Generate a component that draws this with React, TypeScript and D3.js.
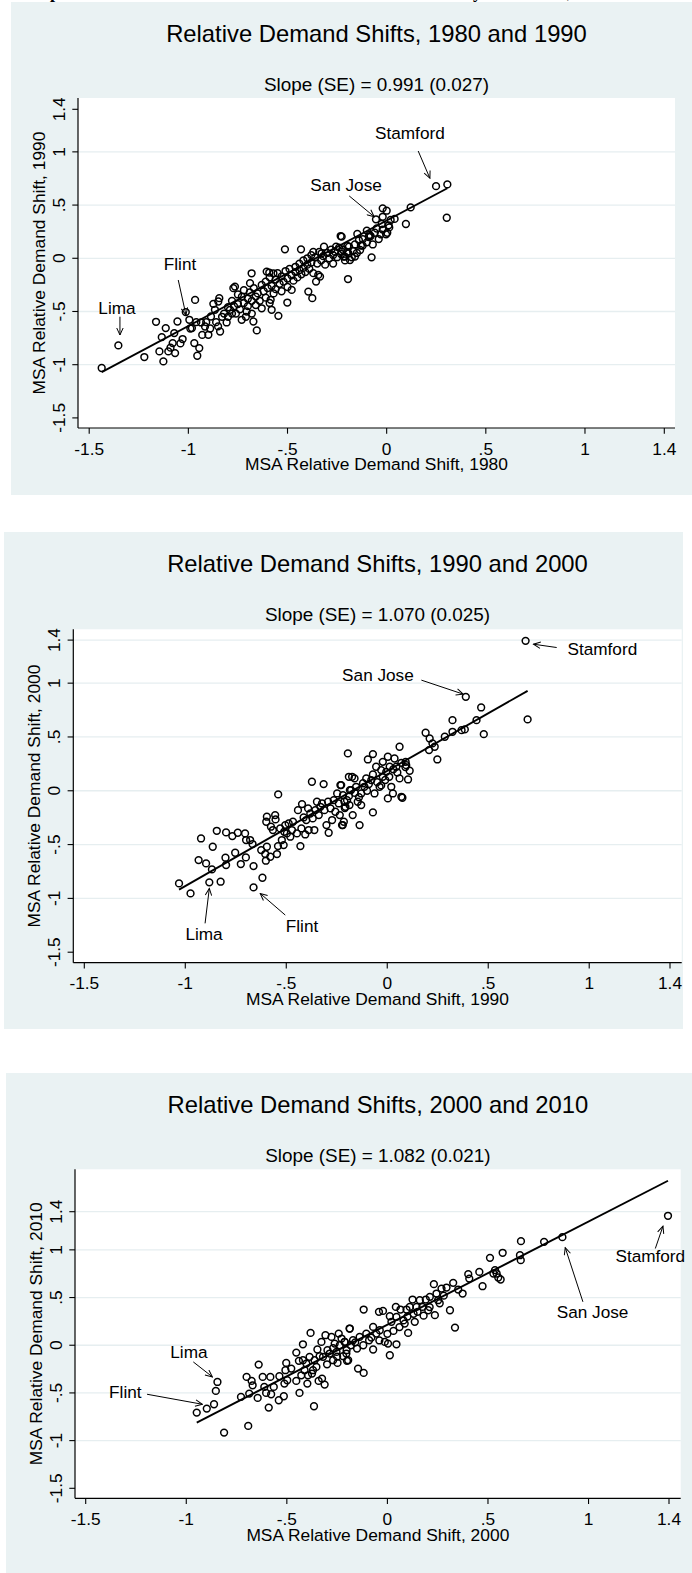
import React from "react";
import * as d3 from "d3";

// ---------- DATA ----------
const tickValues = [-1.5, -1, -0.5, 0, 0.5, 1, 1.4];
const tickLabels = ["-1.5", "-1", "-.5", "0", ".5", "1", "1.4"];

const titles = [
  "Relative Demand Shifts, 1980 and 1990",
  "Relative Demand Shifts, 1990 and 2000",
  "Relative Demand Shifts, 2000 and 2010",
];
const subtitles = [
  "Slope (SE) = 0.991 (0.027)",
  "Slope (SE) = 1.070 (0.025)",
  "Slope (SE) = 1.082 (0.021)",
];
const xTitles = [
  "MSA Relative Demand Shift, 1980",
  "MSA Relative Demand Shift, 1990",
  "MSA Relative Demand Shift, 2000",
];
const yTitles = [
  "MSA Relative Demand Shift, 1990",
  "MSA Relative Demand Shift, 2000",
  "MSA Relative Demand Shift, 2010",
];
const slopes = [0.991, 1.07, 1.082];
const intercepts = [0.355, 0.185, 0.215];
const gridValues = [
  [1, 0.5, 0, -0.5, -1],
  [1.4, 1, 0.5, 0, -0.5, -1],
  [1.4, 1, 0.5, 0, -0.5, -1],
];

const shifts1980_1990: [number, number][] = [
  [0.249, 0.678], [0.306, 0.694], [0.303, 0.381], [0.121, 0.478], [0.097, 0.322],
  [-0.02, 0.469], [0.0, 0.447], [-0.054, 0.366], [-0.02, 0.39], [-0.025, 0.322],
  [0.013, 0.29], [-0.03, 0.225], [-0.003, 0.225], [0.003, 0.24], [-0.081, 0.209],
  [-0.087, 0.219], [-0.1, 0.26], [-0.148, 0.228], [-0.121, 0.119], [-0.134, 0.078],
  [-0.076, 0.009], [-0.195, -0.195], [-0.198, 0.116], [-0.16, 0.016], [-0.176, 0.009],
  [-0.21, 0.016], [-0.227, 0.203], [-0.227, 0.063], [-0.185, -0.016],
  [-1.437, -1.031], [-1.353, -0.819], [-1.222, -0.928], [-1.163, -0.597], [-1.146, -0.875],
  [-1.134, -0.741], [-1.126, -0.969], [-1.114, -0.656], [-1.101, -0.875], [-1.079, -0.797],
  [-1.071, -0.703], [-1.067, -0.891], [-1.055, -0.594], [-1.029, -0.759], [-1.013, -0.506],
  [-0.995, -0.578], [-0.982, -0.656], [-0.97, -0.797], [-0.966, -0.391], [-0.955, -0.916],
  [-0.945, -0.844], [-0.936, -0.603], [-0.916, -0.641], [-0.899, -0.719], [-0.886, -0.547],
  [-0.874, -0.428], [-0.866, -0.484], [-0.849, -0.406], [-0.844, -0.375], [-0.84, -0.688],
  [-0.807, -0.603], [-0.79, -0.484], [-0.773, -0.281], [-0.765, -0.266], [-0.731, -0.578],
  [-0.706, -0.5], [-0.689, -0.234], [-0.681, -0.141], [-0.672, -0.594], [-0.655, -0.678],
  [-0.605, -0.125], [-0.592, -0.134], [-0.585, -0.39], [-0.58, -0.484], [-0.571, -0.141],
  [-0.546, -0.541], [-0.513, 0.084], [-0.501, -0.416], [-0.479, -0.297], [-0.432, 0.084],
  [-0.395, -0.313], [-0.375, -0.375], [-0.37, 0.06], [-0.356, -0.219], [-0.345, -0.156],
  [-0.336, -0.172], [-0.328, 0.047], [-0.316, 0.109], [-0.255, 0.109], [-0.232, 0.209],
  [-0.218, 0.016], [-0.193, 0.047],
  [-1.04, -0.8], [-1.09, -0.84], [-0.99, -0.66], [-0.96, -0.6], [-0.93, -0.72],
  [-0.91, -0.6], [-0.89, -0.66], [-0.86, -0.6], [-0.85, -0.64], [-0.83, -0.55],
  [-0.82, -0.52], [-0.8, -0.55], [-0.8, -0.46], [-0.78, -0.52],
  [-0.78, -0.4], [-0.77, -0.45], [-0.76, -0.52], [-0.75, -0.34], [-0.75, -0.43],
  [-0.74, -0.48], [-0.73, -0.36], [-0.72, -0.42], [-0.72, -0.3], [-0.71, -0.55],
  [-0.7, -0.38], [-0.7, -0.45], [-0.69, -0.32], [-0.68, -0.4], [-0.68, -0.52],
  [-0.67, -0.28], [-0.66, -0.36], [-0.66, -0.44], [-0.65, -0.33], [-0.64, -0.4],
  [-0.63, -0.25], [-0.63, -0.47], [-0.62, -0.31], [-0.61, -0.37], [-0.61, -0.22],
  [-0.6, -0.28], [-0.59, -0.42], [-0.59, -0.18], [-0.58, -0.26], [-0.57, -0.33],
  [-0.56, -0.2], [-0.56, -0.29], [-0.55, -0.14], [-0.54, -0.24], [-0.53, -0.31],
  [-0.53, -0.17], [-0.52, -0.22], [-0.51, -0.12], [-0.5, -0.19], [-0.5, -0.27],
  [-0.49, -0.1], [-0.48, -0.16], [-0.47, -0.21], [-0.46, -0.08], [-0.46, -0.13],
  [-0.45, -0.18], [-0.44, -0.05], [-0.44, -0.11], [-0.43, -0.15], [-0.42, -0.02],
  [-0.42, -0.09], [-0.41, -0.13], [-0.4, 0.0], [-0.4, -0.06], [-0.39, -0.1],
  [-0.38, 0.03], [-0.38, -0.04], [-0.37, -0.14], [-0.36, 0.01], [-0.35, -0.05],
  [-0.34, 0.06], [-0.33, -0.02], [-0.32, 0.02], [-0.31, -0.06], [-0.3, 0.05],
  [-0.29, 0.0], [-0.28, 0.08], [-0.27, 0.03], [-0.27, -0.05], [-0.26, 0.06],
  [-0.25, 0.01], [-0.24, 0.1], [-0.23, 0.04], [-0.22, 0.08], [-0.21, -0.02],
  [-0.2, 0.06], [-0.19, 0.11], [-0.17, 0.07], [-0.16, 0.13], [-0.15, 0.05],
  [-0.14, 0.17], [-0.13, 0.12], [-0.12, 0.18], [-0.1, 0.15], [-0.09, 0.2],
  [-0.07, 0.13], [-0.06, 0.24], [-0.05, 0.28], [-0.04, 0.18], [-0.02, 0.27],
  [0.01, 0.31], [0.02, 0.36], [0.04, 0.37],
];

const shifts1990_2000: [number, number][] = [
  [-1.031, -0.861], [-0.974, -0.954], [-0.922, -0.443], [-0.934, -0.644], [-0.897, -0.675],
  [-0.881, -0.851], [-0.868, -0.731], [-0.864, -0.52], [-0.844, -0.372], [-0.825, -0.845],
  [-0.801, -0.622], [-0.798, -0.387], [-0.798, -0.69], [-0.767, -0.421], [-0.753, -0.576],
  [-0.74, -0.39], [-0.725, -0.681], [-0.704, -0.396], [-0.7, -0.619], [-0.699, -0.458],
  [-0.679, -0.458], [-0.667, -0.495], [-0.662, -0.7], [-0.662, -0.898], [-0.618, -0.808],
  [-0.624, -0.551], [-0.604, -0.588], [-0.596, -0.52], [-0.601, -0.65], [-0.579, -0.613],
  [-0.596, -0.241], [-0.599, -0.288], [-0.555, -0.226], [-0.553, -0.266], [-0.546, -0.588],
  [-0.54, -0.034], [-0.541, -0.514], [-0.566, -0.365], [-0.576, -0.334], [-0.53, -0.35],
  [-0.522, -0.458], [-0.513, -0.505], [-0.51, -0.381], [-0.505, -0.319], [-0.497, -0.396],
  [-0.488, -0.303], [-0.48, -0.427], [-0.472, -0.365], [-0.467, -0.288], [-0.447, -0.396],
  [-0.442, -0.18], [-0.43, -0.514], [-0.425, -0.35], [-0.422, -0.124], [-0.414, -0.248],
  [-0.406, -0.406], [-0.401, -0.272], [-0.392, -0.164], [-0.389, -0.365], [-0.381, -0.211],
  [-0.373, 0.084], [-0.369, -0.257], [-0.361, -0.365], [-0.356, -0.18], [-0.348, -0.102],
  [-0.339, -0.226], [-0.331, -0.149], [-0.323, -0.118], [-0.315, 0.062], [-0.311, -0.18],
  [-0.301, -0.319], [-0.293, -0.102], [-0.29, -0.39], [-0.281, -0.164], [-0.273, -0.272],
  [-0.265, -0.087], [-0.257, -0.195], [-0.248, -0.025], [-0.24, -0.118], [-0.235, -0.226],
  [-0.232, 0.053], [-0.224, -0.319], [-0.219, -0.04], [-0.215, -0.288], [-0.207, -0.149],
  [-0.199, -0.087], [-0.195, 0.347], [-0.19, 0.13], [-0.185, 0.006],
  [0.685, 1.393], [0.389, 0.873], [0.695, 0.663], [0.465, 0.774], [0.442, 0.656],
  [0.478, 0.526], [0.323, 0.656], [0.384, 0.57], [0.368, 0.563], [0.323, 0.548],
  [0.285, 0.502], [0.19, 0.539], [0.21, 0.486], [0.224, 0.44], [0.207, 0.378],
  [0.235, 0.409], [0.248, 0.291], [0.061, 0.409], [0.091, 0.269], [0.111, 0.186],
  [0.103, 0.105], [0.07, -0.056], [0.075, -0.065], [0.003, -0.071], [0.028, -0.025],
  [0.003, 0.316], [-0.022, 0.269], [-0.071, 0.341], [-0.096, 0.291], [-0.055, 0.223],
  [-0.03, 0.192], [0.012, 0.223], [0.036, 0.3], [0.045, 0.223], [0.061, 0.115],
  [0.094, 0.238], [-0.071, 0.152], [-0.079, 0.099], [-0.022, 0.13], [-0.005, 0.176],
  [0.02, 0.037], [-0.038, 0.037], [-0.063, -0.025], [-0.071, -0.201], [-0.137, -0.319],
  [-0.171, -0.226], [-0.113, 0.037], [-0.129, -0.025], [-0.154, 0.037], [-0.162, 0.115],
  [-0.179, 0.006], [-0.146, -0.102], [-0.129, -0.133], [-0.187, -0.133], [-0.22, -0.319],
  [-0.228, 0.053], [-0.212, -0.102], [-0.174, 0.13], [-0.104, 0.115], [-0.091, 0.062],
  [-0.05, 0.08], [-0.03, 0.05], [-0.01, 0.1], [0.01, 0.13], [0.03, 0.2],
  [0.05, 0.17], [0.07, 0.26], [0.09, 0.22], [-0.12, 0.07], [-0.1, 0.0],
  [-0.14, -0.06], [-0.16, -0.02], [-0.19, -0.05], [-0.21, -0.16],
];

const shifts2000_2010: [number, number][] = [
  [-0.948, -0.706], [-0.898, -0.664], [-0.862, -0.619], [-0.853, -0.479], [-0.845, -0.385],
  [-0.812, -0.916], [-0.692, -0.846], [-0.728, -0.542], [-0.7, -0.332], [-0.687, -0.507],
  [-0.675, -0.374], [-0.67, -0.42], [-0.645, -0.552], [-0.64, -0.203], [-0.62, -0.332],
  [-0.612, -0.437], [-0.603, -0.5], [-0.59, -0.654], [-0.582, -0.332], [-0.578, -0.514],
  [-0.565, -0.437], [-0.54, -0.577], [-0.537, -0.325], [-0.515, -0.535], [-0.512, -0.402],
  [-0.507, -0.262], [-0.503, -0.185], [-0.498, -0.367], [-0.478, -0.245], [-0.453, -0.077],
  [-0.453, -0.374], [-0.44, -0.164], [-0.437, -0.5], [-0.428, -0.315], [-0.42, -0.157],
  [-0.42, 0.01], [-0.412, -0.262], [-0.403, -0.192], [-0.398, -0.402], [-0.395, -0.315],
  [-0.387, -0.122], [-0.382, 0.129], [-0.375, -0.297], [-0.37, -0.262], [-0.365, -0.64],
  [-0.362, -0.157], [-0.353, -0.227], [-0.348, -0.045], [-0.342, -0.374], [-0.337, -0.115],
  [-0.328, 0.035], [-0.325, -0.35], [-0.32, -0.122], [-0.312, -0.413], [-0.308, 0.105],
  [-0.298, -0.052], [-0.287, -0.087], [-0.278, 0.087], [-0.27, -0.157], [-0.262, 0.017],
  [-0.253, -0.07], [-0.248, -0.185], [-0.242, 0.122], [-0.237, 0.0], [-0.228, 0.07],
  [-0.22, -0.115], [-0.212, 0.035], [-0.203, -0.052], [-0.195, -0.157], [-0.187, 0.175],
  [-0.182, 0.0],
  [1.395, 1.357], [0.87, 1.133], [0.779, 1.084], [0.664, 1.091], [0.659, 0.944],
  [0.663, 0.892], [0.573, 0.969], [0.51, 0.916], [0.457, 0.769], [0.535, 0.787],
  [0.543, 0.752], [0.551, 0.71], [0.563, 0.689], [0.527, 0.752], [0.473, 0.619],
  [0.402, 0.745], [0.407, 0.699], [0.352, 0.584], [0.374, 0.542], [0.336, 0.185],
  [0.327, 0.654], [0.294, 0.605], [0.269, 0.594], [0.231, 0.64], [0.244, 0.542],
  [0.252, 0.472], [0.211, 0.507], [0.191, 0.479], [0.174, 0.402], [0.203, 0.367],
  [0.236, 0.315], [0.311, 0.367], [0.161, 0.472], [0.125, 0.479], [0.145, 0.402],
  [0.111, 0.402], [0.095, 0.374], [0.065, 0.374], [0.042, 0.402], [0.136, 0.245],
  [0.103, 0.129], [0.086, 0.227], [0.045, 0.297], [0.02, 0.245], [0.012, 0.304],
  [-0.022, 0.36], [-0.042, 0.35], [0.012, -0.105], [0.045, 0.01], [0.003, 0.017],
  [-0.013, 0.035], [-0.038, 0.157], [-0.071, 0.192], [-0.071, -0.045], [-0.118, 0.374],
  [-0.118, -0.29], [-0.146, -0.245], [-0.138, 0.087], [-0.151, -0.035], [-0.188, 0.175],
  [-0.171, 0.052], [-0.204, -0.087], [-0.091, 0.052], [-0.105, 0.122], [-0.055, 0.122],
  [-0.201, -0.164], [-0.213, 0.035],
  [-0.16, 0.03], [-0.12, 0.0], [-0.08, 0.08], [-0.04, 0.05], [0.0, 0.12],
  [0.03, 0.15], [0.06, 0.19], [0.08, 0.26], [0.1, 0.3], [0.13, 0.33],
  [0.15, 0.35], [0.18, 0.31], [0.21, 0.4], [0.26, 0.44], [0.28, 0.52],
  [-0.25, -0.12], [-0.3, -0.2], [-0.27, -0.03],
];

// annotations: label, text anchor point, arrow start, arrow end (data units)
type Note = { label: string; text: [number, number]; from: [number, number]; to: [number, number] };
const notes1: Note[] = [
  { label: "Lima", text: [-1.36, -0.464], from: [-1.345, -0.549], to: [-1.345, -0.721] },
  { label: "Flint", text: [-1.042, -0.056], from: [-1.051, -0.204], to: [-1.012, -0.533] },
  { label: "San Jose", text: [-0.205, 0.689], from: [-0.189, 0.586], to: [-0.063, 0.391] },
  { label: "Stamford", text: [0.117, 1.175], from: [0.159, 1.008], to: [0.218, 0.752] },
];
const notes2: Note[] = [
  { label: "Lima", text: [-0.907, -1.325], from: [-0.902, -1.232], to: [-0.881, -0.907] },
  { label: "Flint", text: [-0.422, -1.257], from: [-0.505, -1.155], to: [-0.629, -0.954] },
  { label: "San Jose", text: [-0.046, 1.074], from: [0.169, 1.028], to: [0.376, 0.898] },
  { label: "Stamford", text: [1.065, 1.316], from: [0.839, 1.331], to: [0.724, 1.362] },
];
const notes3: Note[] = [
  { label: "Lima", text: [-0.987, -0.07], from: [-0.965, -0.175], to: [-0.87, -0.332] },
  { label: "Flint", text: [-1.303, -0.49], from: [-1.195, -0.514], to: [-0.92, -0.619] },
  { label: "San Jose", text: [1.02, 0.35], from: [0.972, 0.455], to: [0.884, 1.024] },
  { label: "Stamford", text: [1.307, 0.934], from: [1.332, 1.014], to: [1.37, 1.248] },
];

const datasets = [shifts1980_1990, shifts1990_2000, shifts2000_2010];
const notesAll = [notes1, notes2, notes3];

// ---------- LAYOUT (pixels) ----------
const layouts = [
  { bg: [11, 2, 692, 495], plot: [78, 98, 675, 428], xr: [89.2, 664.3], yr: [417.9, 109.3] },
  { bg: [4, 532, 683, 1029], plot: [73.3, 629.3, 681.7, 962.7], xr: [84.3, 670], yr: [952.2, 640.1] },
  { bg: [6, 1073, 692, 1573], plot: [75, 1169.3, 680.7, 1498.3], xr: [85.7, 669], yr: [1488.3, 1211.7] },
];

const FONT = "'Liberation Sans', Arial, Helvetica, sans-serif";
const BG = "#EAF2F3";
const GRID = "#E6EEF0";
const INK = "#000000";

function Panel({ i }: { i: number }) {
  const L = layouts[i];
  const [bx0, by0, bx1, by1] = L.bg;
  const [px0, py0, px1, py1] = L.plot;
  const x = d3.scaleLinear().domain([-1.5, 1.4]).range(L.xr);
  const y = d3.scaleLinear().domain([-1.5, 1.4]).range(L.yr);
  const data = datasets[i];
  const ext = d3.extent(data, (d) => d[0]) as [number, number];
  const line = d3
    .line<number>()
    .x((v) => x(v))
    .y((v) => y(intercepts[i] + slopes[i] * v));
  const cx = (px0 + px1) / 2;
  const cy = (py0 + py1) / 2;
  return (
    <g>
      <rect x={bx0} y={by0} width={bx1 - bx0} height={by1 - by0} fill={BG} />
      <rect x={px0} y={py0} width={px1 - px0} height={py1 - py0} fill="#ffffff" />
      {gridValues[i].map((v) => (
        <line key={"g" + v} x1={px0} x2={px1} y1={y(v)} y2={y(v)} stroke={GRID} strokeWidth={1.3} />
      ))}
      <text x={cx} y={by0 + 40} textAnchor="middle" fontFamily={FONT} fontSize={23.8} fill={INK}>
        {titles[i]}
      </text>
      <text x={cx} y={by0 + 89} textAnchor="middle" fontFamily={FONT} fontSize={18.9} fill={INK}>
        {subtitles[i]}
      </text>
      {/* axes */}
      <line x1={px0} x2={px0} y1={py0} y2={py1} stroke={INK} strokeWidth={1.2} />
      <line x1={px0} x2={px1} y1={py1} y2={py1} stroke={INK} strokeWidth={1.2} />
      {tickValues.map((v, k) => (
        <g key={"xt" + k}>
          <line x1={x(v)} x2={x(v)} y1={py1} y2={py1 + 5.7} stroke={INK} strokeWidth={1.1} />
          <text x={x(v)} y={py1 + 26.5} textAnchor="middle" fontFamily={FONT} fontSize={17.3} fill={INK}>
            {tickLabels[k]}
          </text>
        </g>
      ))}
      {tickValues.map((v, k) => (
        <g key={"yt" + k}>
          <line x1={px0 - 5.7} x2={px0} y1={y(v)} y2={y(v)} stroke={INK} strokeWidth={1.1} />
          <text
            transform={`translate(${px0 - 13.5},${y(v)}) rotate(-90)`}
            textAnchor="middle"
            fontFamily={FONT}
            fontSize={17.3}
            fill={INK}
          >
            {tickLabels[k]}
          </text>
        </g>
      ))}
      <text x={cx} y={py1 + 42.3} textAnchor="middle" fontFamily={FONT} fontSize={17.4} fill={INK}>
        {xTitles[i]}
      </text>
      <text
        transform={`translate(${px0 - 33},${cy}) rotate(-90)`}
        textAnchor="middle"
        fontFamily={FONT}
        fontSize={17.4}
        fill={INK}
      >
        {yTitles[i]}
      </text>
      {/* points */}
      {data.map((d, k) => (
        <circle key={"p" + k} cx={x(d[0])} cy={y(d[1])} r={3.4} fill="none" stroke={INK} strokeWidth={1.5} />
      ))}
      {/* fit line */}
      <path d={line([ext[0], ext[1]]) || ""} fill="none" stroke={INK} strokeWidth={1.9} />
      {/* annotations */}
      {notesAll[i].map((n, k) => (
        <g key={"n" + k}>
          <text
            x={x(n.text[0])}
            y={y(n.text[1])}
            dy="0.36em"
            textAnchor="middle"
            fontFamily={FONT}
            fontSize={17.2}
            fill={INK}
          >
            {n.label}
          </text>
          <line
            x1={x(n.from[0])}
            y1={y(n.from[1])}
            x2={x(n.to[0])}
            y2={y(n.to[1])}
            stroke={INK}
            strokeWidth={1}
            markerEnd="url(#arrowhead)"
          />
        </g>
      ))}
    </g>
  );
}

export default function App() {
  return (
    <svg
      width={692}
      height={1573}
      viewBox="0 0 692 1573"
      style={{ position: "absolute", left: 0, top: 0, background: "#ffffff" }}
    >
      <defs>
        <marker
          id="arrowhead"
          viewBox="-8 -4 9 8"
          refX={0}
          refY={0}
          markerWidth={9}
          markerHeight={8}
          markerUnits="userSpaceOnUse"
          orient="auto"
        >
          <path d="M-7,-3.2 L0,0 L-7,3.2" fill="none" stroke={INK} strokeWidth={1} />
        </marker>
      </defs>
      <rect x={0} y={0} width={692} height={1573} fill="#ffffff" />
      {/* clipped caption from the page above */}
      <text y={-1.6} fontFamily="'Liberation Serif', 'Times New Roman', serif" fontWeight="bold" fontSize={18} fill={INK}>
        <tspan x={50}>p</tspan>
        <tspan x={473}>y</tspan>
        <tspan x={567}>,</tspan>
      </text>
      {[0, 1, 2].map((i) => (
        <Panel key={i} i={i} />
      ))}
    </svg>
  );
}
